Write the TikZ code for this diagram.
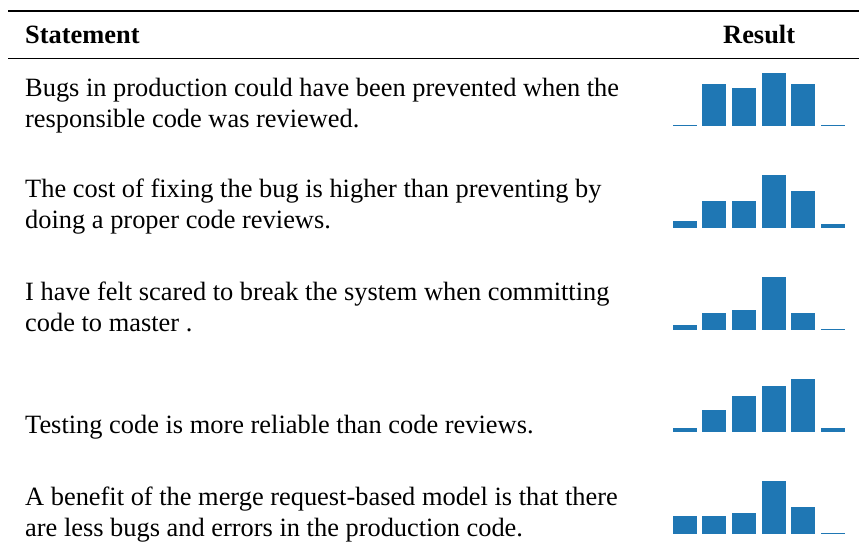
\documentclass[tikz,border=0pt]{standalone}
\usepackage{fontspec}
\setmainfont{Liberation Serif}
\definecolor{barblue}{HTML}{1F77B4}
\tikzset{
  txt/.style={anchor=base west, inner sep=0pt, font=\fontsize{26.4}{31}\selectfont},
  hdr/.style={txt, font=\fontsize{26.4}{31}\selectfont\bfseries},
  rule/.style={line width=#1, black}
}
\begin{document}
\begin{tikzpicture}[x=1pt,y=-1pt]
\useasboundingbox (0,0) rectangle (859,547);
\draw[rule=1.4pt] (8,11) -- (859,11);
\draw[rule=0.9pt] (8,58) -- (859,58);
\node[hdr] (hs) at (25,43) {Statement};
\node[hdr] (hr) at (723,43) {Result};
% row texts
\node[txt] (r1a) at (25,96) {Bugs in production could have been prevented when the};
\node[txt] (r1b) at (25,127) {responsible code was reviewed.};
\node[txt] (r2a) at (25,197) {The cost of fixing the bug is higher than preventing by};
\node[txt] (r2b) at (25,228) {doing a proper code reviews.};
\node[txt] (r3a) at (25,300) {I have felt scared to break the system when committing};
\node[txt] (r3b) at (25,331) {code to master .};
\node[txt] (r4a) at (25,433) {Testing code is more reliable than code reviews.};
\node[txt] (r5a) at (25,505) {A benefit of the merge request-based model is that there};
\node[txt] (r5b) at (25,536) {are less bugs and errors in the production code.};
% bars
\def\barrow#1#2{%
  \foreach \h [count=\i from 0] in {#2} {
    \pgfmathsetmacro{\xl}{{673,702,732,762,791,821}[\i]}
    \fill[barblue] (\xl,#1) rectangle ++(24,-\h);
  }%
}
\barrow{126}{1.2,42,38,53,42,1.2}
\barrow{228}{7,27,27,53,37,4}
\barrow{330}{5,17,20,53,17,1.2}
\barrow{432}{4,22,36,46,53,4}
\barrow{534}{18,18,21,53,27,1.2}
\end{tikzpicture}
\end{document}
